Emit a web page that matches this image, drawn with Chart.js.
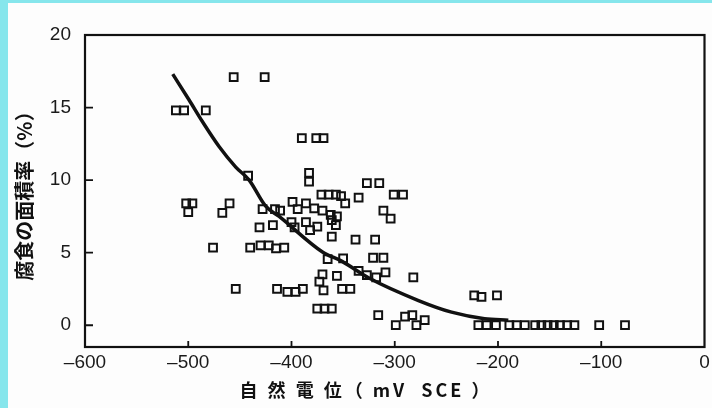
<!DOCTYPE html>
<html>
<head>
<meta charset="utf-8">
<script src="https://cdn.jsdelivr.net/npm/chart.js@4.4.1/dist/chart.umd.min.js"></script>
<style>
  html, body { margin: 0; padding: 0; background: #fdfdfd; }
  #wrap { width: 712px; height: 408px; }
</style>
</head>
<body>
<div id="wrap"><canvas id="corrosionChart" width="712" height="408"></canvas></div>
<script>
// measured points: natural potential (mV SCE) vs corroded area ratio (%)
const potentialX = [
  -456, -426, -512, -504, -483, -390, -376, -369, -442, -383,
  -383, -371, -364, -357, -352, -348, -335, -327, -315, -301,
  -292, -502, -496, -500, -460, -467, -428, -416, -411, -399,
  -394, -386, -378, -370, -362, -356, -400, -397, -386, -382,
  -375, -361, -357, -361, -338, -319, -311, -304, -431, -418,
  -476, -440, -430, -422, -415, -407, -365, -350, -321, -311,
  -335, -327, -318, -309, -282, -370, -373, -369, -356, -351,
  -343, -454, -414, -404, -396, -389, -375, -368, -361, -316,
  -299, -290, -283, -279, -271, -223, -216, -201,
  -219, -211, -202, -189, -182, -174, -164, -158, -152, -146,
  -140, -133, -126, -102, -77
];
const areaRateY = [
  17.1, 17.1, 14.8, 14.8, 14.8, 12.9, 12.9, 12.9, 10.3, 10.5,
  9.9, 9.0, 9.0, 9.0, 8.9, 8.4, 8.8, 9.8, 9.8, 9.0,
  9.0, 8.4, 8.4, 7.8, 8.4, 7.75, 8.0, 8.0, 7.9, 8.5,
  8.0, 8.4, 8.05, 7.9, 7.6, 7.5, 7.1, 6.75, 7.1, 6.55,
  6.8, 7.25, 6.9, 6.1, 5.9, 5.9, 7.9, 7.35, 6.75, 6.9,
  5.35, 5.35, 5.5, 5.5, 5.3, 5.35, 4.55, 4.6, 4.65, 4.65,
  3.75, 3.45, 3.3, 3.65, 3.3, 3.5, 3.0, 2.4, 3.4, 2.5,
  2.5, 2.5, 2.5, 2.3, 2.3, 2.5, 1.15, 1.15, 1.15, 0.7,
  0, 0.6, 0.7, 0, 0.35, 2.05, 1.95, 2.05,
  0, 0, 0, 0, 0, 0, 0, 0, 0, 0,
  0, 0, 0, 0, 0
];

// fitted curve
const curveX = [-515, -499, -486, -470, -454, -441, -425, -412, -370, -351, -325, -277, -245, -213, -190];
const curveY = [17.3, 15.5, 14.0, 12.3, 10.9, 10.0, 8.2, 7.5, 5.05, 4.4, 3.25, 1.7, 0.9, 0.45, 0.35];

const xTickLabels = [-600, -500, -400, -300, -200, -100, 0];
const yTickLabels = [0, 5, 10, 15, 20];

const xTitle = '自 然 電 位（ mV  SCE ）';
const yTitle = '腐食の面積率（%）';

// frame, inward tick marks, x title and the scan's cyan edge
const framePlugin = {
  id: 'frame',
  beforeDraw(chart) {
    const c = chart.ctx;
    c.save();
    c.fillStyle = '#fdfdfd';
    c.fillRect(0, 0, chart.width, chart.height);
    c.fillStyle = '#86e6ec';
    c.fillRect(0, 0, 8, chart.height);
    c.fillRect(0, 0, chart.width, 3);
    c.restore();
  },
  afterDraw(chart) {
    const c = chart.ctx;
    const a = chart.chartArea;
    const xs = chart.scales.x, ys = chart.scales.y;
    c.save();
    c.strokeStyle = '#111';
    c.lineWidth = 2.2;
    c.strokeRect(a.left, a.top, a.right - a.left, a.bottom - a.top);
    c.lineWidth = 1.8;
    c.beginPath();
    yTickLabels.forEach(v => {
      if (v === 20) return;
      const py = ys.getPixelForValue(v);
      c.moveTo(a.left, py);
      c.lineTo(a.left + 8, py);
    });
    xTickLabels.forEach(v => {
      if (v === -600 || v === 0) return;
      const px = xs.getPixelForValue(v);
      c.moveTo(px, a.bottom);
      c.lineTo(px, a.bottom - 6);
    });
    c.stroke();
    c.fillStyle = '#111';
    c.font = 'bold 18px "Noto Sans CJK JP"';
    c.letterSpacing = '3px';
    c.textAlign = 'center';
    c.textBaseline = 'middle';
    c.fillText(xTitle, 366, 390);
    c.restore();
  }
};

const ctx = document.getElementById('corrosionChart').getContext('2d');

let corrosionChart = new Chart(ctx, {
  type: 'scatter',
  data: {
    datasets: [{
      label: 'data',
      data: potentialX.map((x, i) => ({ x: x, y: areaRateY[i] })),
      pointStyle: 'rect',
      pointRadius: 5.5,
      pointBorderWidth: 2,
      pointBorderColor: '#111',
      pointBackgroundColor: 'rgba(0,0,0,0)',
      showLine: false
    }, {
      label: 'curve',
      data: curveX.map((x, i) => ({ x: x, y: curveY[i] })),
      showLine: true,
      borderColor: '#111',
      borderWidth: 3.5,
      pointRadius: 0,
      tension: 0.4,
      cubicInterpolationMode: 'monotone'
    }]
  },
  options: {
    responsive: false,
    animation: false,
    devicePixelRatio: 1,
    layout: { padding: { top: 35, right: 5, left: 0, bottom: 0 } },
    plugins: {
      legend: { display: false },
      tooltip: { enabled: false }
    },
    scales: {
      x: {
        type: 'linear',
        min: -600,
        max: 0,
        grid: { display: false, drawTicks: false },
        border: { display: false },
        afterBuildTicks: s => { s.ticks = xTickLabels.map(v => ({ value: v })); },
        afterFit: s => { s.height = 61; s.paddingLeft = 0; s.paddingRight = 0; },
        ticks: {
          padding: 4,
          color: '#1a1a1a',
          font: { family: '"Liberation Sans"', size: 19 },
          callback: v => (v < 0 ? '–' + Math.abs(v) : String(v))
        }
      },
      y: {
        type: 'linear',
        min: -1.5,
        max: 20,
        grid: { display: false, drawTicks: false },
        border: { display: false },
        afterBuildTicks: s => { s.ticks = yTickLabels.map(v => ({ value: v })); },
        afterFit: s => { s.width = 85; s.paddingTop = 0; s.paddingBottom = 0; },
        ticks: {
          padding: 14,
          color: '#1a1a1a',
          font: { family: '"Liberation Sans"', size: 19 }
        },
        title: {
          display: true,
          text: yTitle,
          color: '#111',
          padding: { top: 12, bottom: 0 },
          font: { family: '"Noto Sans CJK JP"', size: 20, weight: 'bold' }
        }
      }
    }
  },
  plugins: [framePlugin]
});
</script>
</body>
</html>
